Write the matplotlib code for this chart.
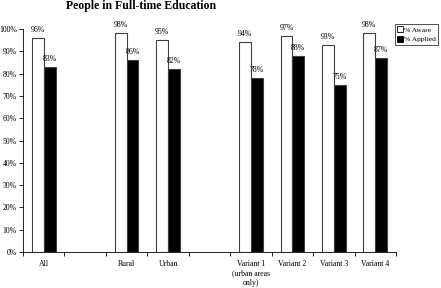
import matplotlib
matplotlib.use("Agg")
import matplotlib.pyplot as plt
import numpy as np
from matplotlib.patches import Patch

categories = ["All", "", "Rural", "Urban", "", "Variant 1\n(urban areas\nonly)", "Variant 2", "Variant 3", "Variant 4"]
aware = [96, None, 98, 95, None, 94, 97, 93, 98]
applied = [83, None, 86, 82, None, 78, 88, 75, 87]

plt.rcParams['font.family'] = ['Liberation Serif', 'DejaVu Serif']

fig = plt.figure(figsize=(4.41, 2.88), dpi=100)
ax = fig.add_axes([23/441, 36/288, 373/441, 223/288])

x = np.arange(len(categories))
w = 0.286
fs = 5.6
for i in x:
    if aware[i] is None:
        continue
    ax.bar(i - w/2, aware[i], w, color="white", edgecolor="#404040", linewidth=0.8)
    ax.bar(i + w/2, applied[i], w, color="black", edgecolor="#404040", linewidth=0.8)
    ax.text(i - w/2, aware[i] + 1.8, f"{aware[i]}%", ha="center", va="bottom", fontsize=fs)
    ax.text(i + w/2, applied[i] + 1.8, f"{applied[i]}%", ha="center", va="bottom", fontsize=fs)

ax.set_xlim(-0.5, len(categories) - 0.5)
ax.set_ylim(0, 100)
ax.set_xticks(np.arange(-0.5, len(categories), 1.0))
ax.set_xticklabels([])
ax.set_xticks(x, minor=True)
ax.set_xticklabels(categories, minor=True, fontsize=fs, va="top")
ax.tick_params(axis="x", which="minor", length=0, pad=6)
ax.tick_params(axis="x", which="major", length=3, direction="out", width=0.6)
ax.set_yticks(np.arange(0, 101, 10))
ax.set_yticklabels([f"{v}%" for v in range(0, 101, 10)], fontsize=fs)
ax.tick_params(axis="y", length=3, direction="out", width=0.6, pad=1.5)
for s in ["top", "right"]:
    ax.spines[s].set_visible(False)
for s in ["left", "bottom"]:
    ax.spines[s].set_linewidth(0.6)

handles = [Patch(facecolor="white", edgecolor="black", linewidth=0.6, label="% Aware"),
           Patch(facecolor="black", edgecolor="black", linewidth=0.6, label="% Applied")]
leg = fig.legend(handles=handles, loc="upper left", bbox_to_anchor=(395/441, 1 - 24/288),
                 fontsize=5.4, frameon=True, fancybox=False, borderpad=0.3,
                 handlelength=0.7, handleheight=0.7, handletextpad=0.2, labelspacing=0.5,
                 borderaxespad=0)
leg.get_frame().set_edgecolor("black")
leg.get_frame().set_linewidth(0.6)

fig.text(141/441, 1 - 0.5/288, "People in Full-time Education", ha="center", va="top",
         fontsize=8.5, fontweight="bold")

fig.savefig("out.png", dpi=100)
